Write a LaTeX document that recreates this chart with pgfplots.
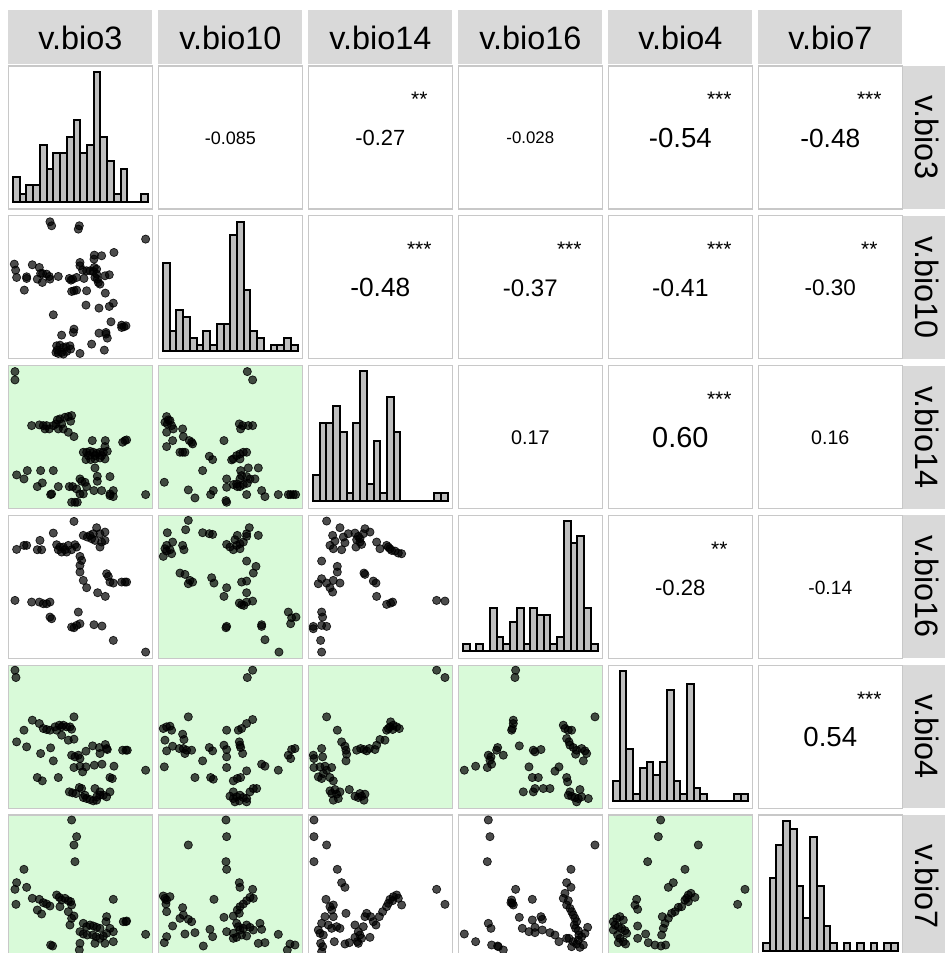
\documentclass[border=0pt]{standalone}
\usepackage{pgfplots}
\pgfplotsset{compat=1.18}
\usepackage{fontspec}
\setmainfont{Liberation Sans}
\definecolor{stripgrey}{RGB}{217,217,217}
\definecolor{bordergrey}{RGB}{200,200,200}
\definecolor{bggreen}{RGB}{217,250,217}
\definecolor{histgrey}{RGB}{190,190,190}
\pgfplotsset{
  panel/.style 2 args={at={({(8.3+150*(#2-1))*0.5pt},{(953-66-149.8*(#1-1)-143)*0.5pt})}, anchor=south west, scale only axis, width=72pt, height=71.5pt, xtick=\empty, ytick=\empty, axis line style={draw=bordergrey, line width=0.6pt}},
  scat/.style={y dir=reverse, ymin=15, ymax=444},
  grn/.style={axis background/.style={fill=bggreen}},
  hist/.style={xmin=-0.7, xmax=20.7},
  pts/.style={only marks, mark=*, mark size=2.05pt, mark options={fill=black, fill opacity=0.7, draw=black, draw opacity=0.85, line width=0.35pt}},
  bars/.style={ybar, bar width=1, fill=histgrey, draw=black, line width=1pt},
}
\newcommand{\corr}[5]{%
  \pgfmathsetmacro{\L}{8.3+150*(#2-1)}%
  \pgfmathsetmacro{\T}{953-66-149.8*(#1-1)}%
  \draw[bordergrey, line width=0.6pt] (\L,\T) rectangle ++(144,-143);
  \node[font=\fontsize{#4}{#4}\selectfont] at ({\L+72},{\T-72}) {#3};
  \node[font=\fontsize{10.5pt}{10.5pt}\selectfont, anchor=base] at ({\L+111},{\T-41}) {#5};
}
\begin{document}
\begin{tikzpicture}[x=0.5pt,y=0.5pt]
% header strips
\foreach \n [count=\k] in {v.bio3,v.bio10,v.bio14,v.bio16,v.bio4,v.bio7} {
  \fill[stripgrey] ({8.3+150*(\k-1)},889) rectangle ++(144,54);
  \node[font=\fontsize{16.2pt}{16.2pt}\selectfont, anchor=base] at ({8.3+150*(\k-1)+72},903) {\n};
  \fill[stripgrey] (902,{953-66-149.8*(\k-1)}) rectangle ++(50,-143);
  \node[rotate=-90, anchor=base, font=\fontsize{16.2pt}{16.2pt}\selectfont] at (915,{953-66-149.8*(\k-1)-71.5}) {\n};
}
% upper triangle
\corr{1}{2}{-0.085}{9pt}{}
\corr{1}{3}{-0.27}{10.95pt}{**}
\corr{1}{4}{-0.028}{8.4pt}{}
\corr{1}{5}{-0.54}{13.8pt}{***}
\corr{1}{6}{-0.48}{13.15pt}{***}
\corr{2}{3}{-0.48}{13.15pt}{***}
\corr{2}{4}{-0.37}{12pt}{***}
\corr{2}{5}{-0.41}{12.4pt}{***}
\corr{2}{6}{-0.30}{11.25pt}{**}
\corr{3}{4}{0.17}{9.9pt}{}
\corr{3}{5}{0.60}{14.45pt}{***}
\corr{3}{6}{0.16}{9.8pt}{}
\corr{4}{5}{-0.28}{11.05pt}{**}
\corr{4}{6}{-0.14}{9.6pt}{}
\corr{5}{6}{0.54}{13.8pt}{***}

% ---------- histograms ----------
\begin{axis}[panel={1}{1}, hist, ymin=-0.9, ymax=16.7]
\addplot[bars] coordinates {(0.5,3) (1.5,1) (2.5,2) (3.5,2) (4.5,7) (5.5,4) (6.5,6) (7.5,6) (8.5,8) (9.5,10) (10.5,6) (11.5,7) (12.5,16) (13.5,8) (14.5,5) (15.5,1) (16.5,4) (17.5,0) (18.5,0) (19.5,1)};
\end{axis}
\begin{axis}[panel={2}{2}, hist, ymin=-1.07, ymax=19.84]
\addplot[bars] coordinates {(0.5,13) (1.5,3) (2.5,6) (3.5,5) (4.5,2) (5.5,1) (6.5,3) (7.5,1) (8.5,4) (9.5,4) (10.5,17) (11.5,19) (12.5,9) (13.5,3) (14.5,2) (15.5,0) (16.5,1) (17.5,1) (18.5,2) (19.5,1)};
\end{axis}
\begin{axis}[panel={3}{3}, hist, ymin=-0.84, ymax=15.66]
\addplot[bars] coordinates {(0.5,3) (1.5,9) (2.5,9) (3.5,11) (4.5,8) (5.5,1) (6.5,9) (7.5,15) (8.5,2) (9.5,7) (10.5,1) (11.5,12) (12.5,8) (13.5,0) (14.5,0) (15.5,0) (16.5,0) (17.5,0) (18.5,1) (19.5,1)};
\end{axis}
\begin{axis}[panel={4}{4}, hist, ymin=-1.0, ymax=18.79]
\addplot[bars] coordinates {(0.5,1) (1.5,0) (2.5,1) (3.5,0) (4.5,6) (5.5,2) (6.5,1) (7.5,4) (8.5,6) (9.5,1) (10.5,6) (11.5,5) (12.5,5) (13.5,1) (14.5,2) (15.5,18) (16.5,15) (17.5,16) (18.5,6) (19.5,1)};
\end{axis}
\begin{axis}[panel={5}{5}, hist, ymin=-1.12, ymax=20.88]
\addplot[bars] coordinates {(0.5,3) (1.5,20) (2.5,8) (3.5,1) (4.5,5) (5.5,6) (6.5,4) (7.5,6) (8.5,17) (9.5,3) (10.5,1) (11.5,18) (12.5,2) (13.5,1) (14.5,0) (15.5,0) (16.5,0) (17.5,0) (18.5,1) (19.5,1)};
\end{axis}
\begin{axis}[panel={6}{6}, hist, ymin=-0.9, ymax=16.7]
\addplot[bars] coordinates {(0.5,1) (1.5,9) (2.5,13) (3.5,16) (4.5,15) (5.5,8) (6.5,4) (7.5,14) (8.5,8) (9.5,3) (10.5,1) (11.5,0) (12.5,1) (13.5,0) (14.5,1) (15.5,0) (16.5,1) (17.5,0) (18.5,1) (19.5,1)};
\end{axis}

% ---------- scatter panels ----------
\begin{axis}[panel={2}{1}, scat, xmin=25, xmax=457]
\addplot[pts] coordinates {(150,33) (155,45) (238,45) (235,55) (437,85) (283,133) (305,135) (282,145) (342,125) (43,160) (47,178) (50,200) (80,198) (80,203) (97,162) (118,170) (122,188) (128,188) (140,190) (148,197) (150,205) (112,205) (127,215) (175,197) (73,238) (208,203) (213,208) (218,205) (230,200) (252,203) (240,155) (240,165) (248,178) (260,180) (270,180) (280,182) (283,170) (290,175) (290,190) (292,205) (295,215) (300,220) (315,195) (328,192) (285,200) (215,242) (222,240) (230,238) (260,240) (316,247) (258,283) (297,292) (328,287) (340,277) (160,312) (333,333) (365,343) (372,348) (378,345) (365,350) (222,355) (220,365) (185,373) (297,367) (318,365) (322,382) (318,370) (170,405) (180,403) (190,410) (198,408) (210,405) (172,418) (185,425) (200,422) (212,415) (175,428) (240,428) (275,400) (313,418) (168,425) (190,430)};
\end{axis}

\begin{axis}[panel={3}{1}, scat, grn, xmin=25, xmax=457]
\addplot[pts] coordinates {(45,33) (45,58) (95,195) (118,193) (130,195) (135,205) (140,195) (148,205) (160,195) (168,190) (172,178) (180,175) (185,190) (195,170) (205,168) (215,165) (212,182) (190,205) (175,205) (205,215) (222,228) (277,240) (316,240) (315,258) (368,245) (375,240) (380,238) (250,275) (260,275) (270,272) (280,275) (290,278) (300,275) (310,275) (322,272) (258,297) (272,297) (285,295) (300,292) (315,295) (285,285) (265,285) (305,285) (285,322) (292,347) (330,348) (292,362) (50,343) (72,355) (82,330) (122,330) (160,330) (112,378) (127,367) (175,378) (152,402) (208,378) (218,378) (230,385) (240,355) (245,362) (255,365) (260,378) (240,400) (250,400) (282,390) (305,390) (330,400) (340,390) (340,408) (330,405) (225,425) (215,425) (232,425) (437,402) (155,400)};
\end{axis}

\begin{axis}[panel={3}{2}, scat, grn, xmin=475, xmax=907]
\addplot[pts] coordinates {(742,33) (758,58) (500,168) (505,178) (495,185) (502,190) (515,195) (510,180) (520,205) (500,215) (548,205) (550,228) (518,240) (500,258) (568,240) (575,245) (578,250) (540,275) (548,275) (555,275) (718,190) (728,195) (745,195) (758,195) (722,205) (672,240) (700,295) (710,285) (720,280) (730,275) (740,275) (720,295) (695,298) (628,287) (638,297) (608,330) (722,330) (745,322) (775,322) (725,345) (680,355) (720,355) (740,348) (750,355) (765,355) (710,370) (720,378) (730,372) (712,378) (700,372) (742,368) (493,365) (565,388) (585,412) (632,402) (640,390) (680,380) (680,425) (678,420) (740,402) (785,390) (795,408) (835,402) (865,402) (872,402) (880,402) (887,402)};
\end{axis}

\begin{axis}[panel={4}{1}, scat, xmin=25, xmax=457]
\addplot[pts] coordinates {(222,33) (160,68) (120,90) (72,105) (80,105) (50,117) (112,118) (125,118) (170,103) (175,118) (185,125) (195,118) (205,105) (215,118) (225,103) (230,110) (200,125) (180,110) (190,110) (250,75) (262,80) (275,85) (285,90) (290,52) (300,70) (315,65) (305,95) (315,90) (300,110) (270,75) (280,70) (240,138) (245,150) (240,165) (240,185) (250,210) (260,232) (320,190) (325,198) (330,215) (340,218) (365,215) (375,215) (380,215) (293,247) (316,258) (45,270) (95,275) (118,275) (130,280) (140,280) (150,275) (150,320) (155,325) (235,305) (240,340) (230,345) (215,350) (222,352) (282,343) (306,347) (340,390) (437,425)};
\end{axis}

\begin{axis}[panel={4}{2}, scat, grn, xmin=475, xmax=907]
\addplot[pts] coordinates {(565,30) (557,58) (502,67) (608,67) (628,70) (638,72) (518,95) (500,105) (495,115) (500,122) (490,138) (510,118) (515,130) (548,105) (552,118) (680,102) (690,110) (700,118) (710,105) (720,100) (730,95) (740,78) (748,52) (712,75) (740,70) (720,115) (775,75) (705,88) (540,188) (555,192) (570,210) (578,215) (565,220) (635,202) (642,218) (740,152) (768,168) (760,188) (725,215) (740,212) (680,232) (672,258) (740,247) (718,278) (725,283) (740,275) (758,272) (732,285) (680,348) (678,352) (785,343) (785,348) (795,388) (865,305) (875,322) (888,320) (872,340) (837,425)};
\end{axis}

\begin{axis}[panel={4}{3}, scat, xmin=925, xmax=1357]
\addplot[pts] coordinates {(980,32) (1020,52) (1045,70) (998,75) (1005,92) (1030,80) (1035,97) (990,105) (1000,115) (1025,118) (1065,68) (1070,88) (1080,95) (1090,70) (1095,55) (1110,65) (1075,78) (1068,110) (1085,102) (1080,85) (1130,95) (1140,115) (1160,105) (1165,110) (1175,120) (1185,122) (1195,128) (1205,130) (1170,115) (965,152) (1012,168) (1012,185) (965,205) (955,220) (980,218) (1000,210) (1020,218) (990,232) (998,245) (1092,188) (1095,192) (1120,212) (1128,218) (1130,258) (1160,282) (1172,278) (1178,275) (1310,270) (1335,272) (965,305) (968,320) (965,345) (980,348) (940,348) (940,355) (962,390) (965,425)};
\end{axis}

\begin{axis}[panel={5}{1}, scat, grn, xmin=25, xmax=457]
\addplot[pts] coordinates {(45,30) (48,52) (97,180) (118,190) (130,205) (140,208) (150,210) (165,200) (170,210) (178,195) (185,200) (190,195) (200,200) (210,200) (215,207) (222,170) (185,225) (205,240) (222,237) (72,210) (50,245) (80,260) (122,280) (152,263) (160,302) (215,285) (225,290) (235,285) (240,295) (258,273) (278,257) (298,262) (316,253) (320,265) (322,268) (300,280) (368,270) (378,270) (382,270) (222,322) (240,318) (258,320) (248,335) (283,315) (306,312) (342,318) (437,330) (112,352) (127,362) (175,352) (330,352) (337,355) (208,395) (218,398) (228,400) (238,382) (245,385) (250,412) (260,415) (270,418) (280,422) (290,420) (300,405) (310,405) (320,410) (285,385) (300,395) (330,395) (290,410) (255,405)};
\end{axis}

\begin{axis}[panel={5}{2}, scat, grn, xmin=475, xmax=907]
\addplot[pts] coordinates {(758,30) (742,52) (490,205) (500,200) (510,198) (515,210) (495,240) (500,272) (518,258) (548,222) (552,238) (565,170) (538,265) (550,265) (560,270) (575,270) (555,280) (680,210) (715,210) (725,205) (740,190) (758,178) (680,268) (672,255) (628,262) (638,272) (718,245) (722,262) (728,280) (720,255) (608,302) (680,290) (680,322) (740,332) (785,312) (795,318) (835,330) (865,285) (875,268) (885,265) (872,295) (493,320) (585,352) (632,352) (640,357) (700,362) (712,355) (722,352) (690,408) (700,415) (710,410) (720,405) (730,412) (740,415) (750,395) (760,385) (770,385) (700,395) (718,422) (740,425) (705,425)};
\end{axis}

\begin{axis}[panel={5}{3}, scat, grn, xmin=925, xmax=1357]
\addplot[pts] coordinates {(1310,30) (1335,52) (980,170) (1012,210) (1025,245) (1035,258) (1038,270) (1040,282) (1038,302) (1070,270) (1082,265) (1092,268) (1100,272) (1108,265) (1125,268) (1130,255) (1140,238) (1155,240) (1160,210) (1170,200) (1172,185) (1180,195) (1190,200) (1198,205) (1178,208) (1165,205) (940,285) (942,295) (965,265) (968,290) (942,322) (960,320) (975,318) (980,330) (995,322) (970,340) (955,350) (965,355) (990,352) (1000,362) (990,392) (995,400) (1005,388) (1010,402) (1015,415) (1000,420) (1020,395) (1048,388) (1065,408) (1075,412) (1085,408) (1092,420) (1095,402) (1080,400)};
\end{axis}

\begin{axis}[panel={5}{4}, scat, grn, xmin=10, xmax=442]
\addplot[pts] coordinates {(182,30) (180,52) (175,180) (175,190) (172,205) (170,210) (420,170) (325,195) (330,205) (340,210) (350,210) (335,235) (342,245) (345,255) (355,262) (365,270) (362,282) (380,265) (390,272) (395,280) (385,302) (128,262) (125,270) (145,285) (100,285) (108,290) (105,300) (110,312) (97,322) (62,318) (28,330) (193,257) (235,270) (240,275) (258,268) (222,320) (232,352) (250,352) (300,333) (312,320) (335,352) (338,365) (205,395) (235,395) (240,385) (265,385) (285,385) (340,405) (350,408) (360,412) (370,415) (380,410) (375,388) (400,415) (345,395) (365,425)};
\end{axis}

\begin{axis}[panel={6}{1}, scat, grn, xmin=25, xmax=457]
\addplot[pts] coordinates {(215,30) (230,80) (222,105) (225,155) (72,178) (50,218) (45,238) (80,232) (48,283) (97,265) (118,268) (130,278) (140,282) (150,288) (112,300) (125,312) (170,255) (178,262) (185,270) (195,265) (205,272) (212,275) (215,285) (180,290) (205,305) (222,318) (215,325) (210,345) (340,268) (250,340) (260,350) (270,345) (280,348) (290,352) (300,355) (240,365) (250,372) (262,375) (278,375) (288,380) (300,385) (310,378) (320,370) (320,320) (318,335) (330,355) (340,365) (370,335) (380,333) (378,335) (240,400) (238,420) (285,400) (315,400) (340,395) (437,373) (152,405) (158,408)};
\end{axis}

\begin{axis}[panel={6}{2}, scat, grn, xmin=475, xmax=907]
\addplot[pts] coordinates {(678,30) (680,80) (565,105) (678,155) (680,178) (490,258) (495,265) (500,270) (510,260) (498,282) (500,305) (548,293) (550,315) (565,328) (575,335) (540,325) (518,348) (718,218) (720,232) (758,238) (750,262) (760,265) (740,272) (730,282) (720,290) (712,300) (700,318) (718,310) (642,268) (672,322) (710,340) (715,350) (720,360) (730,355) (740,345) (750,352) (760,360) (780,340) (785,358) (700,385) (710,382) (725,375) (740,378) (700,370) (680,365) (630,358) (638,380) (555,372) (585,368) (500,380) (493,398) (610,408) (775,400) (795,398) (835,373) (870,402) (885,405) (862,420)};
\end{axis}

\begin{axis}[panel={6}{3}, scat, xmin=925, xmax=1357]
\addplot[pts] coordinates {(942,30) (942,80) (980,105) (942,155) (1012,178) (1025,218) (1035,232) (978,268) (990,290) (1000,285) (995,300) (975,320) (1000,320) (1038,310) (965,340) (985,345) (995,355) (1010,350) (1020,355) (955,360) (960,370) (970,375) (1003,395) (1035,402) (1048,398) (962,400) (968,410) (965,425) (1065,345) (1075,365) (1080,375) (1090,350) (1095,320) (1100,310) (1112,320) (1120,335) (1128,345) (1138,320) (1148,305) (1160,290) (1165,280) (1170,268) (1180,260) (1190,255) (1195,265) (1205,285) (1178,272) (1072,395) (1085,385) (1110,382) (1065,382) (1075,400) (1310,238) (1335,283)};
\end{axis}

\begin{axis}[panel={6}{4}, scat, xmin=10, xmax=442]
\addplot[pts] coordinates {(100,30) (105,80) (97,155) (182,238) (232,268) (348,178) (420,105) (170,270) (172,280) (175,285) (168,278) (335,218) (348,232) (330,250) (325,265) (340,272) (335,285) (345,295) (350,305) (355,315) (360,325) (365,335) (358,345) (362,355) (370,362) (372,375) (380,380) (390,370) (398,352) (370,390) (385,405) (355,395) (342,385) (350,410) (365,402) (375,412) (193,322) (232,330) (258,320) (262,328) (240,352) (202,355) (222,365) (240,368) (262,360) (285,368) (300,375) (312,395) (335,385) (100,340) (108,355) (28,372) (62,395) (110,405) (128,408) (130,410) (145,420)};
\end{axis}

\begin{axis}[panel={6}{5}, scat, grn, xmin=460, xmax=892]
\addplot[pts] coordinates {(617,30) (610,80) (730,105) (578,155) (690,178) (870,238) (848,283) (655,218) (640,232) (545,268) (540,285) (548,298) (475,335) (485,325) (495,320) (505,330) (480,345) (490,350) (500,355) (510,362) (515,370) (475,360) (488,375) (495,385) (505,395) (512,402) (490,398) (548,348) (572,372) (548,385) (580,398) (600,405) (618,408) (632,405) (620,375) (625,355) (630,340) (622,320) (640,325) (650,310) (660,305) (680,290) (690,270) (700,255) (695,265) (708,250) (720,262) (700,275) (670,292)};
\end{axis}

\pgfresetboundingbox
\path[use as bounding box] (0,0) rectangle (944,953);
\end{tikzpicture}
\end{document}
